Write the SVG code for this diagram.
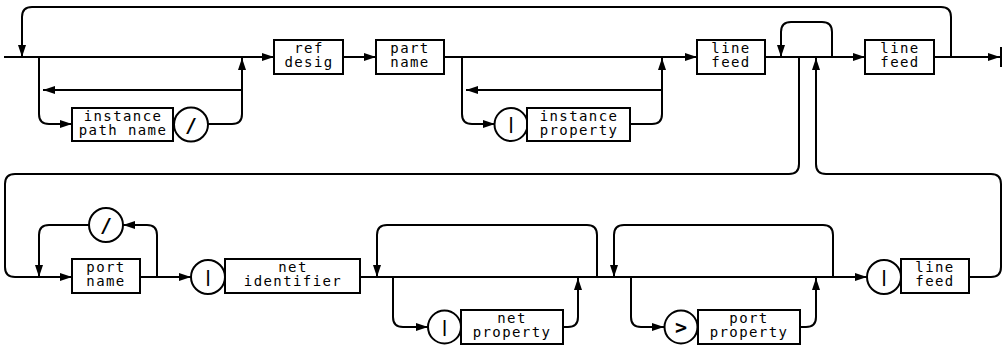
<svg xmlns="http://www.w3.org/2000/svg" width="1004" height="346" viewBox="0 0 1004 346">
<style>
.box{fill:#fff;stroke:#000;stroke-width:2}
.circ{fill:#fff;stroke:#000;stroke-width:2}
.ln{fill:none;stroke:#000;stroke-width:2}
.lnA{fill:none;stroke:#000;stroke-width:2;marker-end:url(#arr)}
text{font-family:"DejaVu Sans Mono","Liberation Mono",monospace;font-size:14px;letter-spacing:1.4px;text-anchor:middle;fill:#000}
.sym{font-size:16px;letter-spacing:0;font-weight:bold}
.big{font-size:20px}
</style>
<defs>
<marker id="arr" markerUnits="userSpaceOnUse" markerWidth="14" markerHeight="10" viewBox="0 0 14 10" refX="13" refY="5" orient="auto">
<path d="M1,1 L13,5 L1,9 Z" fill="#000"/>
</marker>
</defs>
<rect width="1004" height="346" fill="#fff"/>
<g id="connectors">
<path class="lnA" d="M4,57 H274"/>
<path class="lnA" d="M343,57 H376"/>
<path class="lnA" d="M444,57 H697"/>
<path class="lnA" d="M765,57 H865"/>
<path class="lnA" d="M934,57 H1000"/>
<path class="ln" d="M1001,47 V67"/>
<path class="lnA" d="M951,57 V17 Q951,7 941,7 H32 Q22,7 22,17 V57"/>
<path class="lnA" d="M39,57 V114 Q39,124 49,124 H72"/>
<path class="lnA" d="M242,90 H43"/>
<path class="lnA" d="M208,124 H232 Q242,124 242,114 V58"/>
<path class="lnA" d="M462,57 V114 Q462,124 472,124 H495"/>
<path class="lnA" d="M662,90 H466"/>
<path class="lnA" d="M630,124 H652 Q662,124 662,114 V58"/>
<path class="lnA" d="M832,57 V32 Q832,22 822,22 H791 Q781,22 781,32 V57"/>
<path class="lnA" d="M799,57 V164 Q799,174 789,174 H15 Q5,174 5,184 V267 Q5,277 15,277 H72"/>
<path class="lnA" d="M969,277 H991 Q1001,277 1001,267 V184 Q1001,174 991,174 H826 Q816,174 816,164 V58"/>
<path class="lnA" d="M157,277 V235 Q157,225 147,225 H123"/>
<path class="lnA" d="M89,225 H49 Q39,225 39,235 V277"/>
<path class="lnA" d="M140,277 H191"/>
<path class="lnA" d="M360,277 H867"/>
<path class="lnA" d="M597,277 V235 Q597,225 587,225 H387 Q377,225 377,235 V277"/>
<path class="lnA" d="M393,277 V317 Q393,327 403,327 H428"/>
<path class="lnA" d="M563,327 H568 Q578,327 578,317 V278"/>
<path class="lnA" d="M833,277 V235 Q833,225 823,225 H624 Q614,225 614,235 V277"/>
<path class="lnA" d="M631,277 V317 Q631,327 641,327 H664"/>
<path class="lnA" d="M800,327 H806 Q816,327 816,317 V278"/>
</g>
<g id="ref-desig"><rect class="box" x="274" y="40" width="69" height="34"/><text x="309" y="53">ref</text><text x="309" y="67">desig</text></g>
<g id="part-name"><rect class="box" x="376" y="40" width="68" height="34"/><text x="410" y="53">part</text><text x="410" y="67">name</text></g>
<g id="line-feed-1"><rect class="box" x="697" y="40" width="68" height="34"/><text x="731" y="53">line</text><text x="731" y="67">feed</text></g>
<g id="line-feed-2"><rect class="box" x="865" y="40" width="69" height="34"/><text x="900" y="53">line</text><text x="900" y="67">feed</text></g>
<g id="instance-path-name"><rect class="box" x="72" y="108" width="101" height="33"/><text x="123" y="120.5">instance</text><text x="123" y="135">path name</text></g>
<g id="slash-1"><circle class="circ" cx="191" cy="124.5" r="17"/><text class="sym big" x="191" y="131.5">/</text></g>
<g id="bar-1"><circle class="circ" cx="511" cy="124.5" r="16.5"/><text class="sym" x="511" y="129">|</text></g>
<g id="instance-property"><rect class="box" x="527" y="108" width="103" height="33"/><text x="579" y="120.5">instance</text><text x="579" y="135">property</text></g>
<g id="port-name"><rect class="box" x="72" y="259" width="68" height="34"/><text x="106" y="272">port</text><text x="106" y="286">name</text></g>
<g id="slash-2"><circle class="circ" cx="106" cy="225" r="17"/><text class="sym big" x="106" y="232">/</text></g>
<g id="bar-2"><circle class="circ" cx="208" cy="277" r="17"/><text class="sym" x="208" y="281.5">|</text></g>
<g id="net-identifier"><rect class="box" x="225" y="259" width="135" height="34"/><text x="293" y="272">net</text><text x="293" y="286">identifier</text></g>
<g id="bar-3"><circle class="circ" cx="444.5" cy="327" r="16.5"/><text class="sym" x="444.5" y="331.5">|</text></g>
<g id="net-property"><rect class="box" x="461" y="310" width="102" height="34"/><text x="512" y="322.5">net</text><text x="512" y="337">property</text></g>
<g id="gt"><circle class="circ" cx="681" cy="327" r="16.5"/><text class="sym big" x="681" y="334">&gt;</text></g>
<g id="port-property"><rect class="box" x="698" y="310" width="102" height="34"/><text x="749" y="322.5">port</text><text x="749" y="337">property</text></g>
<g id="bar-4"><circle class="circ" cx="884" cy="277" r="17"/><text class="sym" x="884" y="281.5">|</text></g>
<g id="line-feed-3"><rect class="box" x="901" y="259" width="68" height="34"/><text x="935" y="272">line</text><text x="935" y="286">feed</text></g>
</svg>
